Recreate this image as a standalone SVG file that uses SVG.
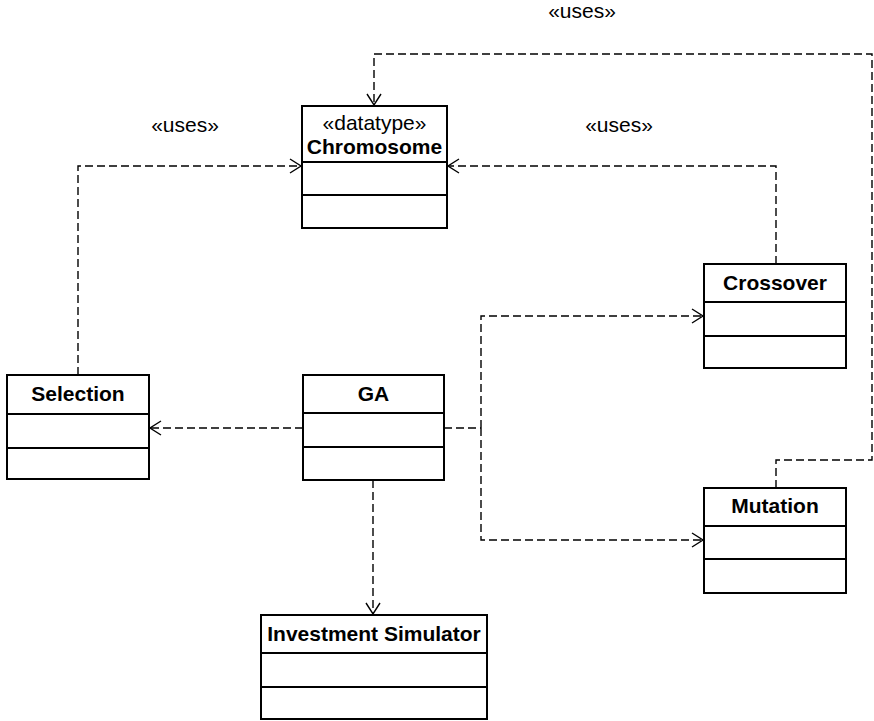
<svg xmlns="http://www.w3.org/2000/svg" width="874" height="721" viewBox="0 0 874 721">
  <defs>
    <style>
      .box { fill: #ffffff; stroke: #000000; stroke-width: 2; }
      .sep { stroke: #000000; stroke-width: 2; fill: none; }
      .name { font-family: "Liberation Sans", Arial, sans-serif; font-size: 21px; font-weight: bold; text-anchor: middle; fill: #000000; }
      .stereo { font-family: "Liberation Sans", Arial, sans-serif; font-size: 21px; text-anchor: middle; fill: #000000; }
      .dep { fill: none; stroke: #000000; stroke-width: 1.4; stroke-dasharray: 8 4; marker-end: url(#open); }
      .seg { fill: none; stroke: #000000; stroke-width: 1.4; stroke-dasharray: 8 4; }
    </style>
    <marker id="open" markerWidth="14" markerHeight="16" refX="12" refY="8" orient="auto" markerUnits="userSpaceOnUse">
      <path d="M1,1 L12,8 L1,15" fill="none" stroke="#000000" stroke-width="1.4"/>
    </marker>
  </defs>

  <rect width="874" height="721" fill="#ffffff"/>

  <!-- dependency connectors -->
  <g id="connectors">
    <!-- Selection uses Chromosome -->
    <path class="dep" d="M78,375 V166 H301"/>
    <!-- Crossover uses Chromosome -->
    <path class="dep" d="M776,264 V166 H448"/>
    <!-- Mutation uses Chromosome -->
    <path class="dep" d="M776,488 V460 H872 V54 H374 V105"/>
    <!-- GA depends on Selection -->
    <path class="dep" d="M303,428 H150"/>
    <!-- GA depends on Crossover / Mutation -->
    <path class="seg" d="M444,428 H481"/>
    <path class="dep" d="M481,428 V316 H703"/>
    <path class="dep" d="M481,428 V540 H703"/>
    <!-- GA depends on Investment Simulator -->
    <path class="dep" d="M373,480 V614"/>
    <text class="stereo" x="185" y="132">«uses»</text>
    <text class="stereo" x="619" y="132">«uses»</text>
    <text class="stereo" x="582" y="18">«uses»</text>
  </g>

  <g id="chromosome">
    <rect class="box" x="302" y="106" width="145" height="122"/>
    <line class="sep" x1="302" y1="162" x2="447" y2="162"/>
    <line class="sep" x1="302" y1="195" x2="447" y2="195"/>
    <text class="stereo" x="374.5" y="130">«datatype»</text>
    <text class="name" x="374.5" y="154">Chromosome</text>
  </g>

  <g id="crossover">
    <rect class="box" x="704" y="264" width="142" height="104"/>
    <line class="sep" x1="704" y1="302" x2="846" y2="302"/>
    <line class="sep" x1="704" y1="336" x2="846" y2="336"/>
    <text class="name" x="775" y="290">Crossover</text>
  </g>

  <g id="selection">
    <rect class="box" x="7" y="375" width="142" height="104"/>
    <line class="sep" x1="7" y1="414" x2="149" y2="414"/>
    <line class="sep" x1="7" y1="448" x2="149" y2="448"/>
    <text class="name" x="78" y="401">Selection</text>
  </g>

  <g id="ga">
    <rect class="box" x="303" y="375" width="141" height="105"/>
    <line class="sep" x1="303" y1="413" x2="444" y2="413"/>
    <line class="sep" x1="303" y1="447" x2="444" y2="447"/>
    <text class="name" x="373.5" y="401">GA</text>
  </g>

  <g id="mutation">
    <rect class="box" x="704" y="488" width="142" height="105"/>
    <line class="sep" x1="704" y1="526" x2="846" y2="526"/>
    <line class="sep" x1="704" y1="559" x2="846" y2="559"/>
    <text class="name" x="775" y="513">Mutation</text>
  </g>

  <g id="investment-simulator">
    <rect class="box" x="261" y="615" width="226" height="104"/>
    <line class="sep" x1="261" y1="653" x2="487" y2="653"/>
    <line class="sep" x1="261" y1="687" x2="487" y2="687"/>
    <text class="name" x="374" y="641">Investment Simulator</text>
  </g>
</svg>
